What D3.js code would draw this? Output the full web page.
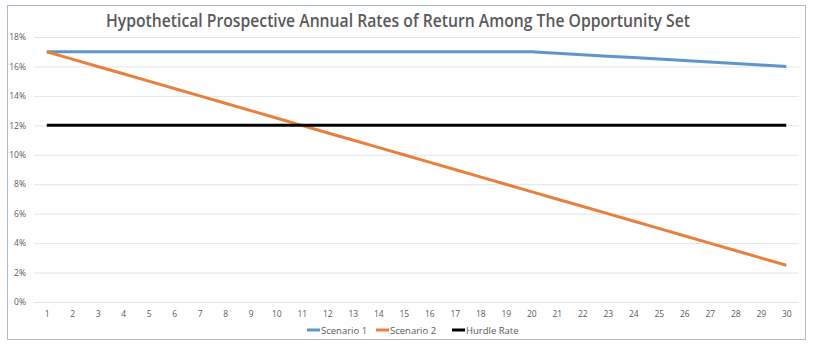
<!DOCTYPE html>
<html>
<head>
<meta charset="utf-8">
<script src="https://d3js.org/d3.v7.min.js"></script>
<style>
  body { margin: 0; background: #fff; }
  svg text { font-family: "Open Sans", "DejaVu Sans", sans-serif; fill: #595959; }
</style>
</head>
<body>
<svg id="chart" width="813" height="348"></svg>
<script>
// periods along the x axis
const periods = d3.range(1, 31);
// annual return, in percent
const scenario1 = [17, 17, 17, 17, 17, 17, 17, 17, 17, 17,
                   17, 17, 17, 17, 17, 17, 17, 17, 17, 17,
                   16.9, 16.8, 16.7, 16.6, 16.5, 16.4, 16.3, 16.2, 16.1, 16];
const scenario2 = [17, 16.5, 16, 15.5, 15, 14.5, 14, 13.5, 13, 12.5,
                   12, 11.5, 11, 10.5, 10, 9.5, 9, 8.5, 8, 7.5,
                   7, 6.5, 6, 5.5, 5, 4.5, 4, 3.5, 3, 2.5];
const hurdle = periods.map(() => 12);
const yTicks = [0, 2, 4, 6, 8, 10, 12, 14, 16, 18];

const series = [
  { name: 'Scenario 1', values: scenario1, color: '#6095c9' },
  { name: 'Scenario 2', values: scenario2, color: '#e7803d' },
  { name: 'Hurdle Rate', values: hurdle, color: '#000000' }
];

const svg = d3.select('#chart');

// outer chart frame
svg.append('rect')
   .attr('x', 7.5).attr('y', 5.5)
   .attr('width', 798).attr('height', 334)
   .attr('fill', '#fff')
   .attr('stroke', '#a9bccb')
   .attr('stroke-width', 1);

const plot = { left: 34, right: 799, top: 37, bottom: 302 };

const x = d3.scalePoint()
            .domain(periods)
            .range([plot.left, plot.right])
            .padding(0.5);

const y = d3.scaleLinear()
            .domain([0, 18])
            .range([plot.bottom, plot.top]);

// horizontal gridlines + y labels
const yAxis = svg.append('g')
   .attr('transform', `translate(${plot.left},0)`)
   .call(d3.axisLeft(y)
           .tickValues(yTicks)
           .tickSize(-(plot.right - plot.left))
           .tickPadding(8)
           .tickFormat(d => d + '%'));
yAxis.select('.domain').remove();
yAxis.selectAll('line').attr('stroke', '#e4e4e4');
yAxis.selectAll('text').attr('font-size', 8.5).attr('fill', '#595959');

// x labels
const xAxis = svg.append('g')
   .attr('transform', `translate(0,${plot.bottom})`)
   .call(d3.axisBottom(x).tickSize(0).tickPadding(9));
xAxis.select('.domain').remove();
xAxis.selectAll('text').attr('font-size', 8.5).attr('fill', '#595959');

const line = d3.line()
               .x((d, i) => x(periods[i]))
               .y(d => y(d));

svg.selectAll('path.series')
   .data(series)
   .enter()
   .append('path')
     .attr('class', 'series')
     .attr('d', d => line(d.values))
     .attr('fill', 'none')
     .attr('stroke', d => d.color)
     .attr('stroke-width', 3)
     .attr('stroke-linejoin', 'round');

// title
svg.append('text')
   .attr('x', 398).attr('y', 27)
   .attr('text-anchor', 'middle')
   .attr('font-size', 17.5)
   .attr('font-weight', 600)
   .attr('textLength', 584)
   .attr('lengthAdjust', 'spacingAndGlyphs')
   .style('fill', '#595959')
   .text('Hypothetical Prospective Annual Rates of Return Among The Opportunity Set');

// legend
const legendX = [307, 376, 452];
const legend = svg.selectAll('g.legend')
   .data(series)
   .enter()
   .append('g')
     .attr('class', 'legend')
     .attr('transform', (d, i) => `translate(${legendX[i]},330)`);
legend.append('line')
   .attr('x1', 0).attr('x2', 13)
   .attr('stroke', d => d.color)
   .attr('stroke-width', 3);
legend.append('text')
   .attr('x', 14).attr('y', 3.5)
   .attr('font-size', 9.5)
   .text(d => d.name);
</script>
</body>
</html>
